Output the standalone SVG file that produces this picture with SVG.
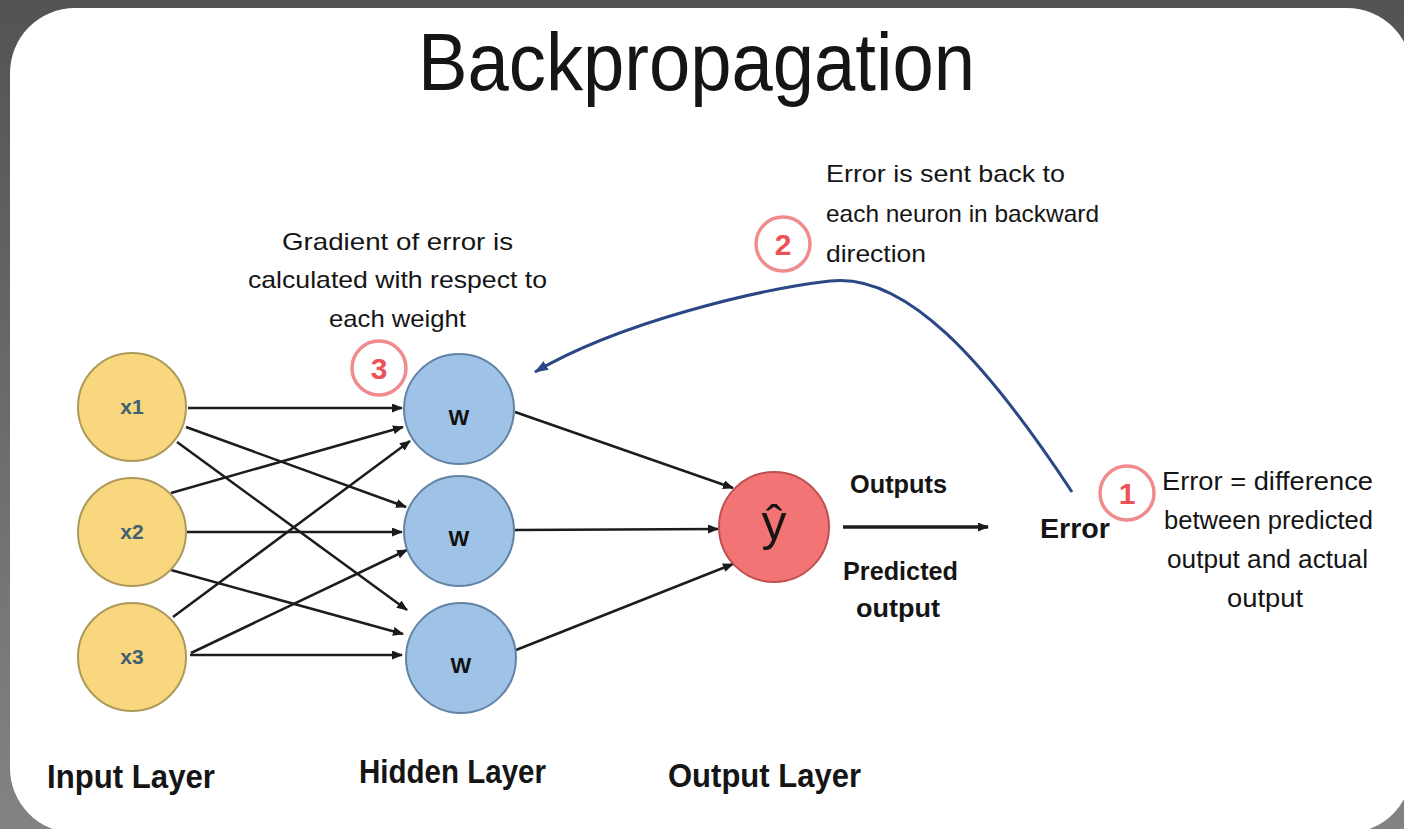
<svg xmlns="http://www.w3.org/2000/svg" width="1404" height="829" viewBox="0 0 1404 829">
<defs>
<linearGradient id="bg" x1="0" y1="0" x2="0" y2="1">
<stop offset="0" stop-color="#535353"/>
<stop offset="1" stop-color="#838383"/>
</linearGradient>
<marker id="ah" markerUnits="userSpaceOnUse" markerWidth="11" markerHeight="9" refX="10" refY="4.5" orient="auto"><path d="M0,0 L11,4.5 L0,9 z" fill="#1a1a1a"/></marker>
<marker id="ahb" markerUnits="userSpaceOnUse" markerWidth="14" markerHeight="10" refX="13" refY="5" orient="auto"><path d="M0,0 L14,5 L0,10 z" fill="#2b4785"/></marker>
<style>
.t{font-family:"Liberation Sans",Arial,sans-serif;fill:#151515}
.b{font-weight:bold}
.c{stroke:#1c1c1c;stroke-width:2.5;fill:none;marker-end:url(#ah)}
.in{fill:#f9d77e;stroke:#ad9a5b;stroke-width:2}
.hid{fill:#9fc3e7;stroke:#6383a6;stroke-width:2}
.out{fill:#f37474;stroke:#c0504f;stroke-width:2}
.num{fill:#ffffff;stroke:#f08c8e;stroke-width:3.5}
.numt{font-family:"Liberation Sans",Arial,sans-serif;font-weight:bold;font-size:30px;fill:#ee5058;text-anchor:middle}
.xl{font-family:"Liberation Sans",Arial,sans-serif;font-weight:bold;font-size:21px;fill:#3f6070;text-anchor:middle}
.wl{font-family:"Liberation Sans",Arial,sans-serif;font-weight:bold;font-size:22px;fill:#111;text-anchor:middle}
</style>
</defs>
<rect x="0" y="0" width="1404" height="829" fill="url(#bg)"/>
<rect x="10" y="8" width="1402" height="825" rx="65" ry="65" fill="#ffffff"/>

<text id="title" class="t" x="418" y="90" font-size="82" textLength="557" lengthAdjust="spacingAndGlyphs">Backpropagation</text>

<g id="connectors">
<line class="c" x1="188" y1="408" x2="402" y2="408"/>
<line class="c" x1="186" y1="427" x2="406" y2="507"/>
<line class="c" x1="177" y1="442" x2="407" y2="610"/>
<line class="c" x1="171" y1="493" x2="403" y2="427"/>
<line class="c" x1="187" y1="532" x2="402" y2="532"/>
<line class="c" x1="171" y1="570" x2="403" y2="634"/>
<line class="c" x1="173" y1="617" x2="410" y2="441"/>
<line class="c" x1="191" y1="653" x2="407" y2="550"/>
<line class="c" x1="190" y1="655" x2="402" y2="655"/>
<line class="c" x1="515" y1="412" x2="733" y2="488"/>
<line class="c" x1="515" y1="530" x2="718" y2="529"/>
<line class="c" x1="516" y1="650" x2="733" y2="564"/>
<line class="c" x1="843" y1="527" x2="988" y2="527" style="stroke-width:3.5"/>
<path id="backprop" d="M1072,492 C985,360 905,272 830,281 C760,289 620,322 535,372" fill="none" stroke="#2b4785" stroke-width="3" marker-end="url(#ahb)"/>
</g>

<g id="input-x1"><circle class="in" cx="132" cy="407" r="54"/><text class="xl" x="132" y="414">x1</text></g>
<g id="input-x2"><circle class="in" cx="132" cy="532" r="54"/><text class="xl" x="132" y="539">x2</text></g>
<g id="input-x3"><circle class="in" cx="132" cy="657" r="54"/><text class="xl" x="132" y="664">x3</text></g>

<g id="hidden-w1"><circle class="hid" cx="459" cy="409" r="55"/><text class="wl" x="459" y="425">W</text></g>
<g id="hidden-w2"><circle class="hid" cx="459" cy="531" r="55"/><text class="wl" x="459" y="546">W</text></g>
<g id="hidden-w3"><circle class="hid" cx="461" cy="658" r="55"/><text class="wl" x="461" y="673">W</text></g>

<g id="output-y"><circle class="out" cx="774" cy="527" r="55"/><text class="t" x="774" y="540" font-size="50" text-anchor="middle">ŷ</text></g>

<g id="label-outputs">
<text class="t b" x="850" y="493" font-size="26" textLength="97" lengthAdjust="spacingAndGlyphs">Outputs</text>
<text class="t b" x="843" y="580" font-size="26" textLength="115" lengthAdjust="spacingAndGlyphs">Predicted</text>
<text class="t b" x="856" y="617" font-size="26" textLength="84" lengthAdjust="spacingAndGlyphs">output</text>
</g>

<g id="error">
<text class="t b" x="1040" y="538" font-size="27" textLength="70" lengthAdjust="spacingAndGlyphs">Error</text>
</g>

<g id="step1">
<circle class="num" cx="1127" cy="493" r="27"/><text class="numt" x="1127" y="504">1</text>
<text class="t" x="1162" y="490" font-size="25" textLength="211" lengthAdjust="spacingAndGlyphs">Error = difference</text>
<text class="t" x="1164" y="529" font-size="25" textLength="209" lengthAdjust="spacingAndGlyphs">between predicted</text>
<text class="t" x="1167" y="568" font-size="25" textLength="201" lengthAdjust="spacingAndGlyphs">output and actual</text>
<text class="t" x="1227" y="607" font-size="25" textLength="76" lengthAdjust="spacingAndGlyphs">output</text>
</g>

<g id="step2">
<circle class="num" cx="783" cy="244" r="27"/><text class="numt" x="783" y="255">2</text>
<text class="t" x="826" y="182" font-size="24" textLength="239" lengthAdjust="spacingAndGlyphs">Error is sent back to</text>
<text class="t" x="826" y="222" font-size="24" textLength="273" lengthAdjust="spacingAndGlyphs">each neuron in backward</text>
<text class="t" x="826" y="262" font-size="24" textLength="100" lengthAdjust="spacingAndGlyphs">direction</text>
</g>

<g id="step3">
<circle class="num" cx="379" cy="368" r="27"/><text class="numt" x="379" y="379">3</text>
<text class="t" x="282" y="250" font-size="24" textLength="231" lengthAdjust="spacingAndGlyphs">Gradient of error is</text>
<text class="t" x="248" y="288" font-size="24" textLength="299" lengthAdjust="spacingAndGlyphs">calculated with respect to</text>
<text class="t" x="329" y="327" font-size="24" textLength="137" lengthAdjust="spacingAndGlyphs">each weight</text>
</g>

<g id="layer-labels">
<text class="t b" x="47" y="788" font-size="33" textLength="168" lengthAdjust="spacingAndGlyphs">Input Layer</text>
<text class="t b" x="359" y="783" font-size="33" textLength="187" lengthAdjust="spacingAndGlyphs">Hidden Layer</text>
<text class="t b" x="668" y="787" font-size="33" textLength="193" lengthAdjust="spacingAndGlyphs">Output Layer</text>
</g>
</svg>
